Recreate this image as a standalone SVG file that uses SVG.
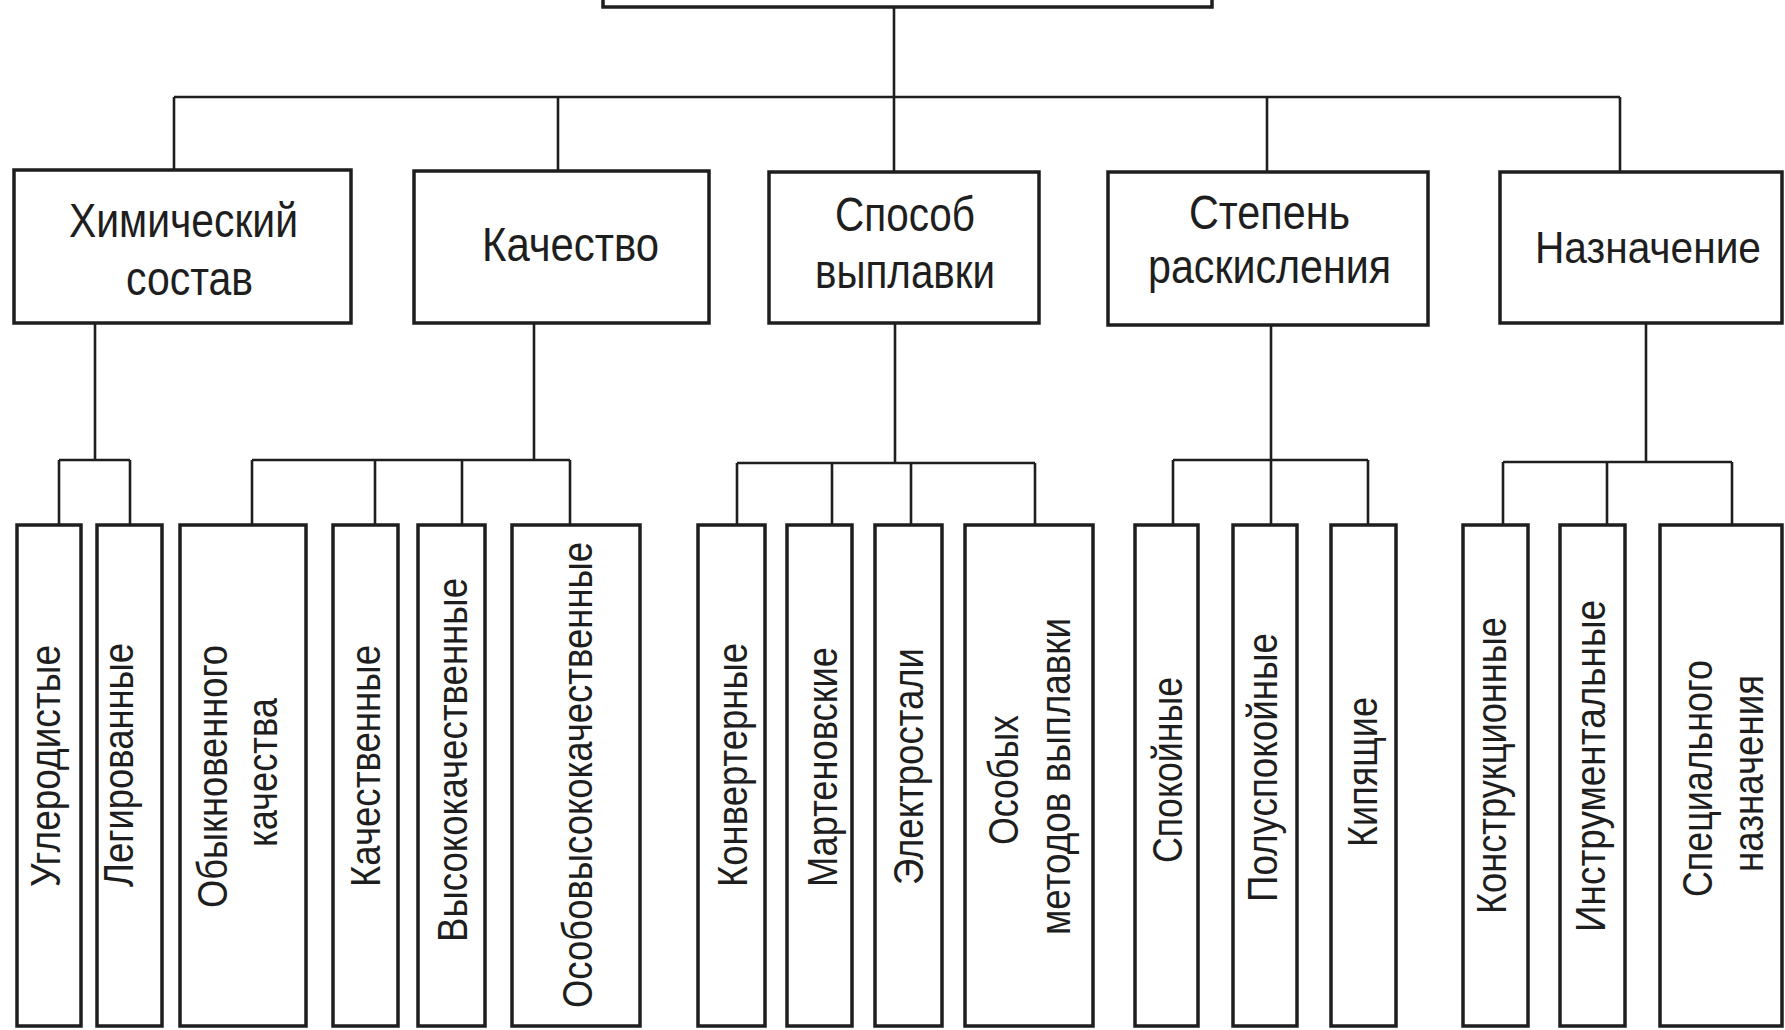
<svg xmlns="http://www.w3.org/2000/svg" width="1785" height="1030" viewBox="0 0 1785 1030">
<style>
.box{fill:#fff;stroke:#1e1e1e;stroke-width:3.5}
.ln{fill:none;stroke:#1e1e1e;stroke-width:2.6}
.h{font-family:"Liberation Sans",Arial,sans-serif;font-size:48px;fill:#1e1e1e}
.v{font-family:"Liberation Sans",Arial,sans-serif;font-size:43px;fill:#1e1e1e}
</style>
<rect width="1785" height="1030" fill="#fff"/>
<g id="connectors">
<path class="ln" d="M894 7V97M174 97H1620M174 97V171M558 97V171M894 97V172M1267 97V172M1620 97V172"/>
<path class="ln" d="M95 323V460M59 460H130M59 460V525M130 460V525"/>
<path class="ln" d="M534 323V460M252 460H570M252 460V525M375 460V525M462 460V525M570 460V525"/>
<path class="ln" d="M895 323V463M737 463H1035M737 463V525M832 463V525M911 463V525M1035 463V525"/>
<path class="ln" d="M1271 325V460M1173 460H1368M1173 460V525M1271 460V525M1368 460V525"/>
<path class="ln" d="M1646 323V462M1503 462H1732M1503 462V525M1607 462V525M1732 462V525"/>
</g>
<g id="root"><rect class="box" x="603" y="-30" width="609" height="37"/></g>
<g id="n-chem"><rect class="box" x="14" y="170" width="337" height="153"/>
<text class="h" x="69" y="237" textLength="229" lengthAdjust="spacingAndGlyphs">Химический</text>
<text class="h" x="126" y="295" textLength="127" lengthAdjust="spacingAndGlyphs">состав</text></g>
<g id="n-qual"><rect class="box" x="414" y="171" width="295" height="152"/>
<text class="h" x="482" y="261" textLength="177" lengthAdjust="spacingAndGlyphs">Качество</text></g>
<g id="n-melt"><rect class="box" x="769" y="172" width="270" height="151"/>
<text class="h" x="835" y="231" textLength="140" lengthAdjust="spacingAndGlyphs">Способ</text>
<text class="h" x="815" y="288" textLength="180" lengthAdjust="spacingAndGlyphs">выплавки</text></g>
<g id="n-deox"><rect class="box" x="1108" y="172" width="320" height="153"/>
<text class="h" x="1189" y="229" textLength="161" lengthAdjust="spacingAndGlyphs">Степень</text>
<text class="h" x="1148" y="283" textLength="243" lengthAdjust="spacingAndGlyphs">раскисления</text></g>
<g id="n-purp"><rect class="box" x="1500" y="172" width="282" height="151"/>
<text class="h" x="1535" y="263" style="font-size:44px" textLength="226" lengthAdjust="spacingAndGlyphs">Назначение</text></g>

<g id="c1"><rect class="box" x="17" y="525" width="64" height="501"/>
<text class="v" transform="translate(60 887) rotate(-90)" textLength="242" lengthAdjust="spacingAndGlyphs">Углеродистые</text></g>
<g id="c2"><rect class="box" x="97" y="525" width="65" height="501"/>
<text class="v" transform="translate(133 887) rotate(-90)" textLength="244" lengthAdjust="spacingAndGlyphs">Легированные</text></g>
<g id="q1"><rect class="box" x="180" y="525" width="126" height="501"/>
<text class="v" transform="translate(227 908) rotate(-90)" textLength="263" lengthAdjust="spacingAndGlyphs">Обыкновенного</text>
<text class="v" transform="translate(277 847) rotate(-90)" textLength="149" lengthAdjust="spacingAndGlyphs">качества</text></g>
<g id="q2"><rect class="box" x="333" y="525" width="65" height="501"/>
<text class="v" transform="translate(380 887) rotate(-90)" textLength="242" lengthAdjust="spacingAndGlyphs">Качественные</text></g>
<g id="q3"><rect class="box" x="418" y="525" width="67" height="501"/>
<text class="v" transform="translate(467 942) rotate(-90)" textLength="364" lengthAdjust="spacingAndGlyphs">Высококачественные</text></g>
<g id="q4"><rect class="box" x="512" y="525" width="128" height="501"/>
<text class="v" transform="translate(592 1008) rotate(-90)" textLength="466" lengthAdjust="spacingAndGlyphs">Особовысококачественные</text></g>
<g id="m1"><rect class="box" x="698" y="525" width="67" height="501"/>
<text class="v" transform="translate(747 887) rotate(-90)" textLength="244" lengthAdjust="spacingAndGlyphs">Конвертерные</text></g>
<g id="m2"><rect class="box" x="787" y="525" width="65" height="501"/>
<text class="v" transform="translate(837 887) rotate(-90)" textLength="240" lengthAdjust="spacingAndGlyphs">Мартеновские</text></g>
<g id="m3"><rect class="box" x="875" y="525" width="67" height="501"/>
<text class="v" transform="translate(923 885) rotate(-90)" textLength="237" lengthAdjust="spacingAndGlyphs">Электростали</text></g>
<g id="m4"><rect class="box" x="965" y="525" width="128" height="501"/>
<text class="v" transform="translate(1018 845) rotate(-90)" textLength="130" lengthAdjust="spacingAndGlyphs">Особых</text>
<text class="v" transform="translate(1070 935) rotate(-90)" textLength="317" lengthAdjust="spacingAndGlyphs">методов выплавки</text></g>
<g id="d1"><rect class="box" x="1135" y="525" width="63" height="501"/>
<text class="v" transform="translate(1182 863) rotate(-90)" textLength="186" lengthAdjust="spacingAndGlyphs">Спокойные</text></g>
<g id="d2"><rect class="box" x="1233" y="525" width="64" height="501"/>
<text class="v" transform="translate(1277 902) rotate(-90)" textLength="269" lengthAdjust="spacingAndGlyphs">Полуспокойные</text></g>
<g id="d3"><rect class="box" x="1331" y="525" width="65" height="501"/>
<text class="v" transform="translate(1377 847) rotate(-90)" textLength="150" lengthAdjust="spacingAndGlyphs">Кипящие</text></g>
<g id="p1"><rect class="box" x="1463" y="525" width="65" height="501"/>
<text class="v" transform="translate(1506 914) rotate(-90)" textLength="297" lengthAdjust="spacingAndGlyphs">Конструкционные</text></g>
<g id="p2"><rect class="box" x="1560" y="525" width="65" height="501"/>
<text class="v" transform="translate(1605 932) rotate(-90)" textLength="332" lengthAdjust="spacingAndGlyphs">Инструментальные</text></g>
<g id="p3"><rect class="box" x="1660" y="525" width="122" height="501"/>
<text class="v" transform="translate(1712 897) rotate(-90)" textLength="237" lengthAdjust="spacingAndGlyphs">Специального</text>
<text class="v" transform="translate(1763 872) rotate(-90)" textLength="197" lengthAdjust="spacingAndGlyphs">назначения</text></g>
</svg>
